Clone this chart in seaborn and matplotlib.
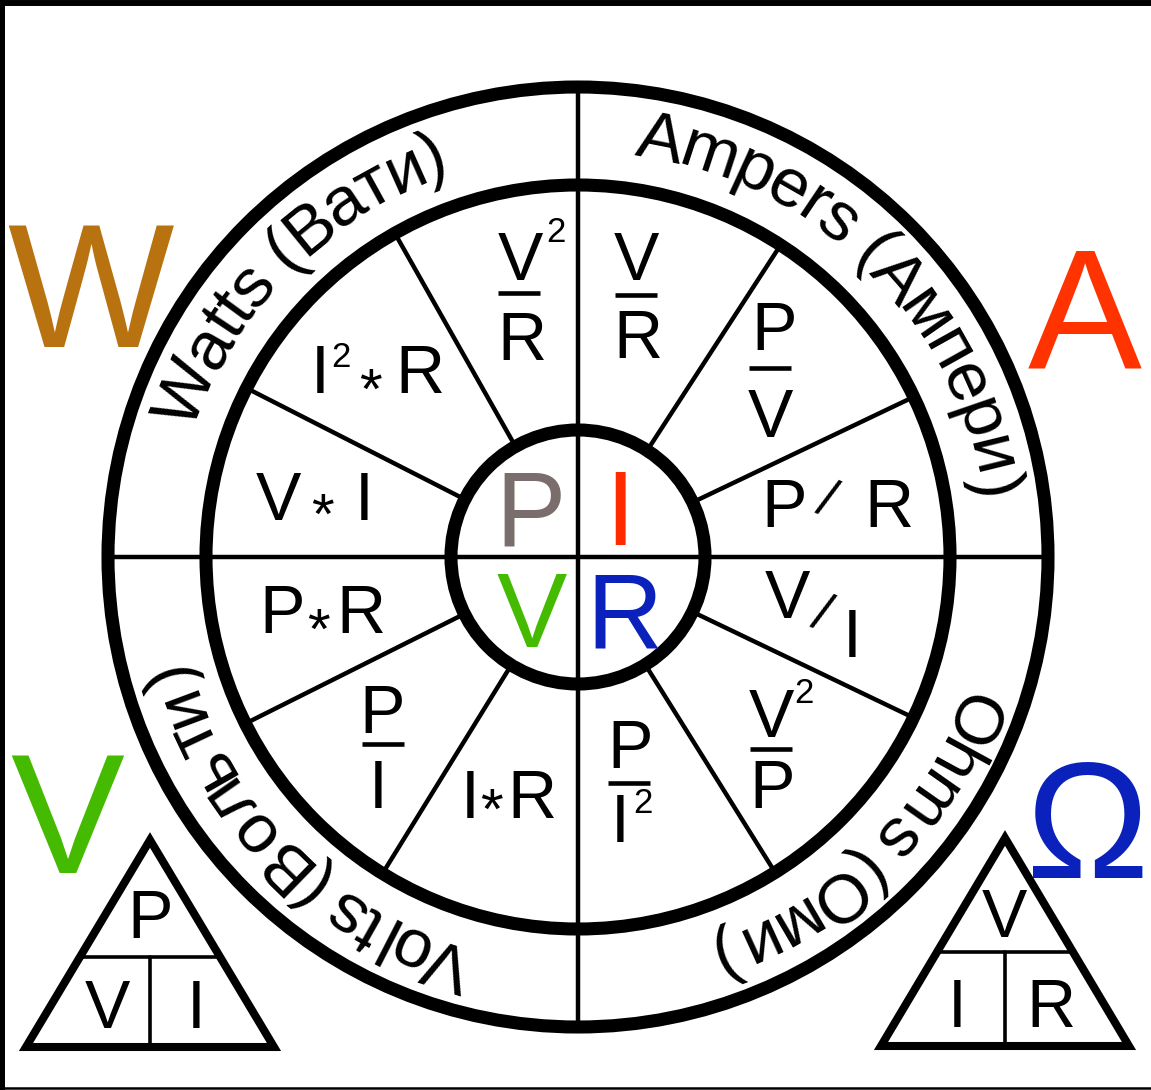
import numpy as np
import pandas as pd
import matplotlib
matplotlib.use("Agg")
import matplotlib.pyplot as plt
from matplotlib.patches import Circle, Polygon
from matplotlib.font_manager import FontProperties, findfont, get_font
import seaborn as sns

# ---- chart content ----
quantity_names = ["Watts (Вати)", "Ampers (Ампери)", "Ohms (Оми)", "Volts (Вольти)"]
quadrant_mid_deg = [135, 45, -45, -135]
corner_letters = ["W", "A", "Ω", "V"]
corner_colors = ["#B8720F", "#FF3300", "#0A22BB", "#44BB00"]
hub_letters = ["P", "I", "V", "R"]
hub_colors = ["#7A6E6C", "#FF2A00", "#44BB00", "#0A22BB"]
ring_radii = [127, 372, 470]
spoke_deg = [25.5, 57, 119.5, 153, 206.6, 238.3, 302, 334.4]
formulas = ["V∗ I", "I²∗ R", "V²/R", "V/R", "P/V", "P/ R",
            "V/I", "V²/P", "P/I²", "I∗R", "P/I", "P∗R"]
formula_kind = ["inline", "inline", "frac", "frac", "frac", "inline",
                "inline", "frac", "frac", "inline", "frac", "inline"]
triangle_labels = [["P", "V", "I"], ["V", "I", "R"]]

# ---- layout (pixel coords, y down) ----
W_PX, H_PX = 1151, 1090
cx, cy = 578, 557
px = 100 / 72  # pixels per point

# token anchors for each formula (spaces dropped)
formula_xy = [
    [(278, 520), (322, 534), (364, 520)],
    [(320, 393), (341, 367), (370, 409), (420, 393)],
    [(520, 280), (556, 242), (519, 293), (522, 360)],
    [(636, 280), (636, 295), (638, 358)],
    [(774, 350), (770, 368), (770, 437)],
    [(784, 527), (826, 501), (889, 527)],
    [(787, 618), (821, 615), (852, 657)],
    [(771, 737), (804, 703), (771, 749), (772, 808)],
    [(630, 768), (629, 783), (620, 842), (643, 813)],
    [(470, 818), (491, 829), (532, 818)],
    [(382, 733), (383, 744), (378, 808)],
    [(282, 633), (318, 649), (361, 633)],
]
hub_xy = [(531, 545), (620, 545), (532, 647), (624, 647)]
corner_xy = [(90, 347), (1085, 368), (1088, 878), (67, 873)]
corner_size = [127, 123, 119, 123]
tri_vertices = [[(150, 840), (26, 1047), (274, 1047)],
                [(1005, 838), (881, 1046), (1129, 1046)]]
tri_split_y = [957, 952]
tri_text_xy = [[(150, 938), (107, 1028), (196, 1028)],
               [(1004, 937), (957, 1027), (1051, 1027)]]

sns.set_theme(style="white")
plt.rcParams["font.family"] = ["Liberation Sans", "DejaVu Sans"]
plt.rcParams["text.color"] = "black"

fig = plt.figure(figsize=(W_PX / 100, H_PX / 100), dpi=100)
ax = fig.add_axes([0, 0, 1, 1])

# rings
for r in ring_radii:
    ax.add_patch(Circle((cx, cy), r, fill=False, ec="black", lw=9.4))

# radial spokes between hub and middle ring
rows = []
for i, a in enumerate(spoke_deg):
    for r in ring_radii[:2]:
        rows.append((i, cx + r * np.cos(np.radians(a)), cy - r * np.sin(np.radians(a))))
# the two full diameters
for i, a in enumerate([0, 90]):
    for r in (-ring_radii[2], ring_radii[2]):
        rows.append((10 + i, cx + r * np.cos(np.radians(a)), cy - r * np.sin(np.radians(a))))
spokes = pd.DataFrame(rows, columns=["spoke", "x", "y"])
sns.lineplot(data=spokes, x="x", y="y", units="spoke", estimator=None, sort=False,
             color="black", lw=3.2, ax=ax, legend=False)

# curved quantity names in the outer band, clockwise, tops outward
ring_pt = 50
ft = get_font(findfont(FontProperties(family="Liberation Sans")), hinting_factor=1)
ft.set_size(ring_pt, 72)


def advance(ch):
    return ft.load_char(ord(ch)).linearHoriAdvance / 65536 * px


R_text = 429
R_base = R_text - 0.688 * ring_pt * px / 2
for name, mid in zip(quantity_names, quadrant_mid_deg):
    w = np.array([advance(c) for c in name])
    offs = np.cumsum(w) - w / 2 - w.sum() / 2
    for ch, o in zip(name, offs):
        if ch == " ":
            continue
        th = np.radians(mid) - o / R_text
        ax.text(cx + R_base * np.cos(th), cy - R_base * np.sin(th), ch,
                rotation=np.degrees(th) - 90, rotation_mode="anchor",
                ha="center", va="baseline", fontsize=ring_pt)

# formulas in the twelve sectors
for f, kind, xy in zip(formulas, formula_kind, formula_xy):
    tokens = [t for t in f if t != " "]
    for t, (x, y) in zip(tokens, xy):
        if t == "/" and kind == "frac":
            ax.plot([x - 21, x + 21], [y, y], color="black", lw=3.3,
                    solid_capstyle="butt")
        elif t == "/":
            ax.text(x, y, "/", fontsize=38, rotation=-22, ha="center", va="center")
        elif t == "²":
            ax.text(x, y, "2", fontsize=25, ha="center", va="baseline")
        elif t == "∗":
            ax.text(x, y, "*", fontsize=42, ha="center", va="baseline")
        else:
            ax.text(x, y, t, fontsize=49, ha="center", va="baseline")

# hub letters
for t, c, (x, y) in zip(hub_letters, hub_colors, hub_xy):
    ax.text(x, y, t, fontsize=76, color=c, ha="center", va="baseline")

# big corner letters
for t, c, s, (x, y) in zip(corner_letters, corner_colors, corner_size, corner_xy):
    ax.text(x, y, t, fontsize=s, color=c, ha="center", va="baseline")

# formula triangles
for verts, sy, labels, txy in zip(tri_vertices, tri_split_y, triangle_labels, tri_text_xy):
    ax.add_patch(Polygon(verts, closed=True, fill=False, ec="black", lw=5.8,
                         joinstyle="miter"))
    (ax_, ay), (lx, ly), (rx, ry) = verts
    t = (sy - ay) / (ly - ay)
    x0 = ax_ + (lx - ax_) * t
    x1 = ax_ + (rx - ax_) * t
    ax.plot([x0, x1], [sy, sy], color="black", lw=2.6)
    ax.plot([ax_, ax_], [sy, ly], color="black", lw=2.6)
    for lab, (x, y) in zip(labels, txy):
        ax.text(x, y, lab, fontsize=49, ha="center", va="baseline")

# frame
ax.plot([0, W_PX], [3, 3], color="black", lw=4.3)
ax.plot([2.5, 2.5], [0, H_PX], color="black", lw=3.6)
ax.plot([0, W_PX], [1088, 1088], color="black", lw=1.8)

ax.set_xlim(0, W_PX)
ax.set_ylim(H_PX, 0)
ax.axis("off")
fig.savefig("out.png", dpi=100, facecolor="white")
